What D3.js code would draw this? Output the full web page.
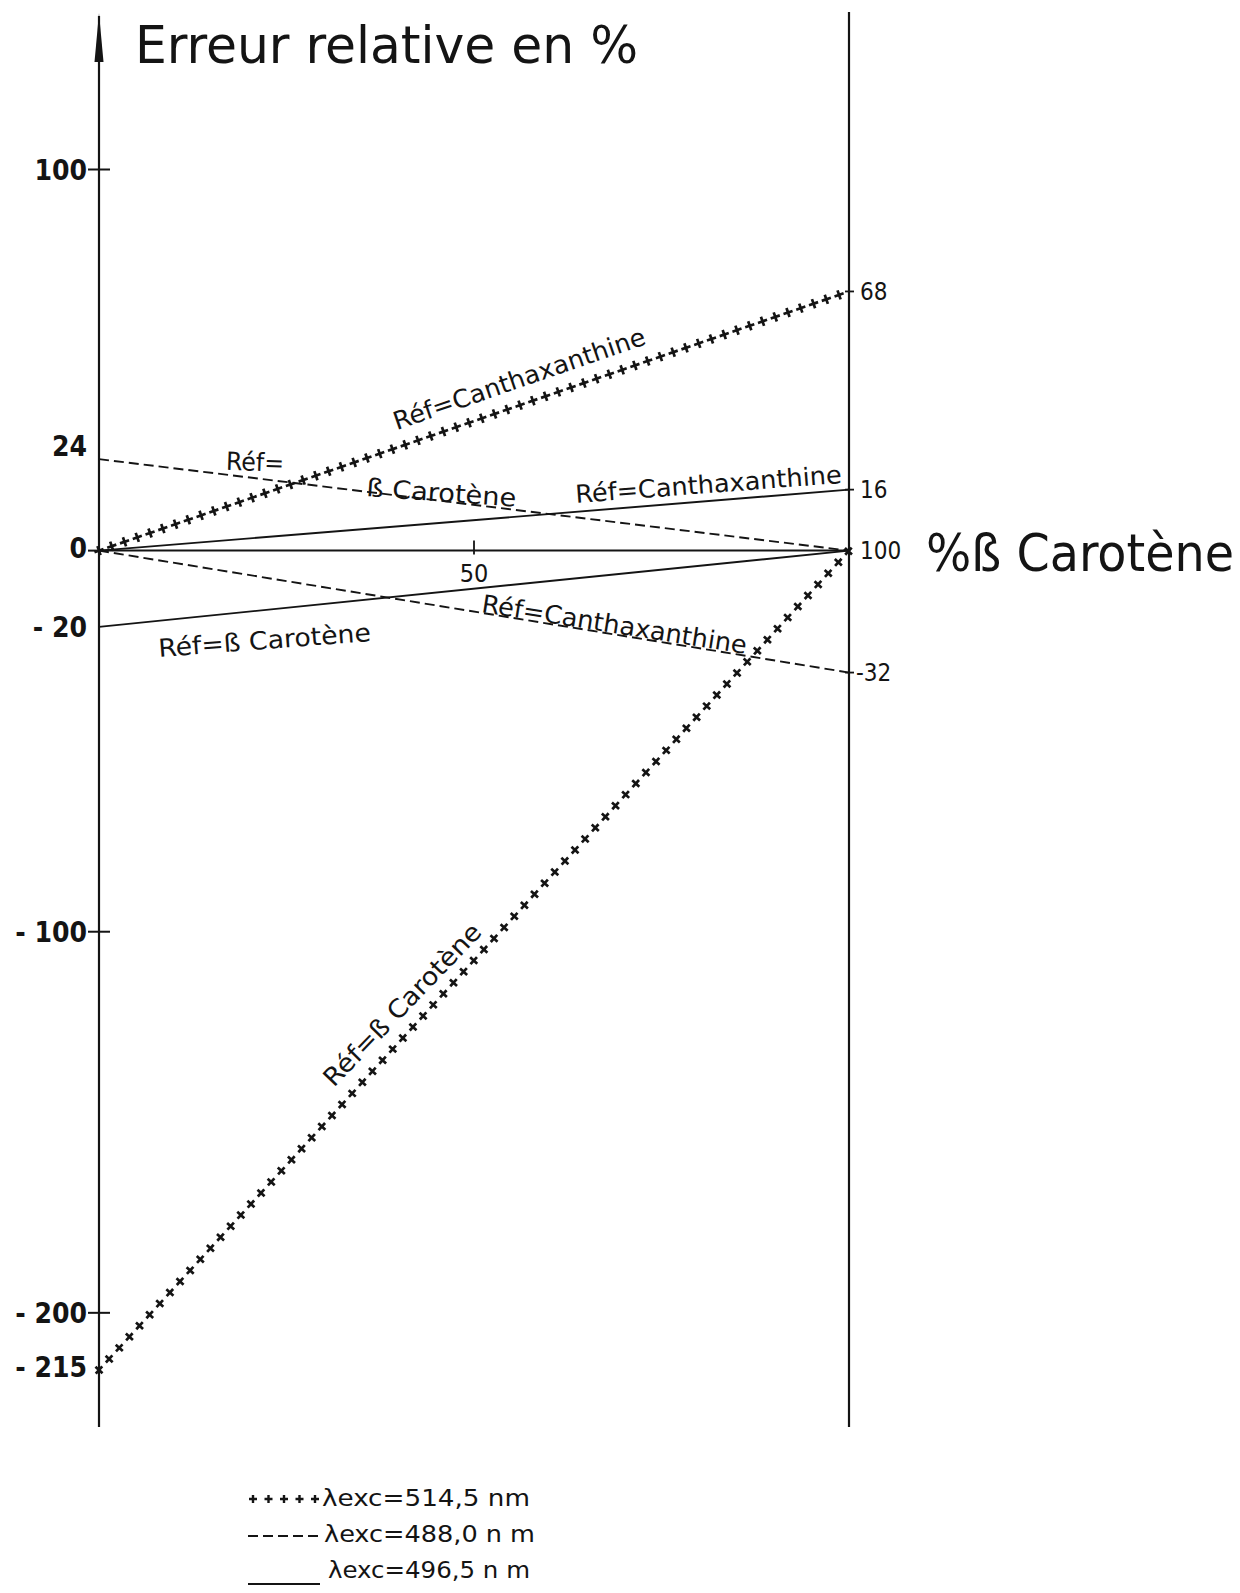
<!DOCTYPE html>
<html>
<head>
<meta charset="utf-8">
<script src="https://cdn.jsdelivr.net/npm/d3@7"></script>
<style>
  body { margin: 0; background: #fff; }
  text { font-family: "DejaVu Sans Condensed", "DejaVu Sans", sans-serif; fill: #141414; }
</style>
</head>
<body>
<svg id="chart" width="1240" height="1593"></svg>
<script>
// % beta carotene at both ends of each line
const pctCarotene = [0, 100];

// relative error (%) at 0 % and 100 % beta carotene
const plusCanth  = [0, 68];     // 514,5 nm, ref = canthaxanthine
const plusCarot  = [-215, 0];   // 514,5 nm, ref = beta carotene
const dashCarot  = [24, 0];     // 488,0 nm, ref = beta carotene
const dashCanth  = [0, -32];    // 488,0 nm, ref = canthaxanthine
const solidCanth = [0, 16];     // 496,5 nm, ref = canthaxanthine
const solidCarot = [-20, 0];    // 496,5 nm, ref = beta carotene

const leftTicks  = [100, 24, 0, -20, -100, -200, -215];
const leftLabels = ["100", "24", "0", "- 20", "- 100", "- 200", "- 215"];
const rightTicks  = [68, 16, 0, -32];
const rightLabels = ["68", "16", "100", "-32"];

const legendLabels = ["λexc=514,5 nm", "λexc=488,0 n m", "λexc=496,5 n m"];
const legendStyles = ["plus", "dash", "solid"];

const svg = d3.select("#chart");
const ink = "#141414";

const x = d3.scaleLinear().domain([0, 100]).range([99, 849]);
const y = d3.scaleLinear().domain([100, -215]).range([169.5, 1370]);

const series = [
  { values: plusCanth,  style: "plus" },
  { values: plusCarot,  style: "plus" },
  { values: dashCarot,  style: "dash" },
  { values: dashCanth,  style: "dash" },
  { values: solidCanth, style: "solid" },
  { values: solidCarot, style: "solid" }
];

// axes
svg.append("line").attr("x1", x(0)).attr("x2", x(0)).attr("y1", 16).attr("y2", 1427)
  .attr("stroke", ink).attr("stroke-width", 2.2);
svg.append("path").attr("d", `M${x(0)},13 L${x(0) - 4.5},62 L${x(0) + 4.5},62 Z`).attr("fill", ink);
svg.append("line").attr("x1", x(100)).attr("x2", x(100)).attr("y1", 12).attr("y2", 1427)
  .attr("stroke", ink).attr("stroke-width", 2.2);
svg.append("line").attr("x1", x(0)).attr("x2", x(100)).attr("y1", y(0)).attr("y2", y(0))
  .attr("stroke", ink).attr("stroke-width", 2);

// tick at 50
svg.append("line").attr("x1", x(50)).attr("x2", x(50)).attr("y1", y(0) - 10).attr("y2", y(0) + 4)
  .attr("stroke", ink).attr("stroke-width", 1.8);
svg.append("text").attr("x", x(50)).attr("y", y(0) + 31).attr("text-anchor", "middle")
  .attr("font-size", 25).text("50");

// left ticks + labels
const crossTicks = [100, -100, -200];
crossTicks.forEach(v => {
  svg.append("line").attr("x1", x(0) - 11).attr("x2", x(0) + 11).attr("y1", y(v)).attr("y2", y(v))
    .attr("stroke", ink).attr("stroke-width", 2);
});
svg.append("line").attr("x1", x(0) - 11).attr("x2", x(0)).attr("y1", y(0)).attr("y2", y(0))
  .attr("stroke", ink).attr("stroke-width", 2);

const leftShift = { "24": -13, "0": -3, "- 215": -3 };
leftTicks.forEach((v, i) => {
  svg.append("text")
    .attr("x", 87).attr("y", y(v) + (leftShift[leftLabels[i]] || 0))
    .attr("dy", "0.36em").attr("text-anchor", "end")
    .attr("font-size", 28).attr("font-weight", "bold")
    .text(leftLabels[i]);
});

// right ticks + labels
rightTicks.forEach((v, i) => {
  if (v !== 0) {
    svg.append("line").attr("x1", x(100) - 4).attr("x2", x(100) + 5).attr("y1", y(v)).attr("y2", y(v))
      .attr("stroke", ink).attr("stroke-width", 1.8);
  }
  svg.append("text")
    .attr("x", v === -32 ? x(100) + 7 : x(100) + 11).attr("y", y(v))
    .attr("dy", "0.36em").attr("font-size", 24)
    .text(rightLabels[i]);
});

// titles
svg.append("text").attr("x", 135).attr("y", 63).attr("font-size", 51)
  .attr("textLength", 503).attr("lengthAdjust", "spacingAndGlyphs")
  .text("Erreur relative en %");
svg.append("text").attr("x", 926).attr("y", 571).attr("font-size", 51)
  .attr("textLength", 308).attr("lengthAdjust", "spacingAndGlyphs")
  .text("%ß Carotène");

// series
const line = d3.line().x((d, i) => x(pctCarotene[i])).y(d => y(d));
const plusShape = "M-4.8,0L4.8,0M0,-4.8L0,4.8";

function dropPluses(pathSel, step, angle) {
  const node = pathSel.node();
  const len = node.getTotalLength();
  const g = svg.append("g");
  for (let s = 0; s <= len + 0.5; s += step) {
    const p = node.getPointAtLength(Math.min(s, len));
    g.append("path").attr("d", plusShape)
      .attr("transform", `translate(${p.x},${p.y}) rotate(${angle})`)
      .attr("stroke", ink).attr("stroke-width", 2.7).attr("fill", "none");
  }
}

series.forEach(s => {
  const p = svg.append("path").datum(s.values).attr("d", line).attr("fill", "none");
  if (s.style === "plus") {
    p.attr("stroke", "none");
    const ang = Math.atan2(y(s.values[1]) - y(s.values[0]), x(pctCarotene[1]) - x(pctCarotene[0])) * 180 / Math.PI;
    dropPluses(p, s.values[0] === -215 ? 15 : 13.5, ang);
  } else {
    p.attr("stroke", ink).attr("stroke-width", 1.9);
    if (s.style === "dash") p.attr("stroke-dasharray", "10,5");
  }
});

// line annotations (x, y in data units, baseline start)
const notes = [
  { text: "Réf=Canthaxanthine", px: 39.7, py: 31.6, angle: -19, len: 265 },
  { text: "Réf=",               px: 16.9, py: 21.2, angle: 2,   len: 58 },
  { text: "ß Carotène",         px: 35.6, py: 14.3, angle: 4,   len: 150 },
  { text: "Réf=Canthaxanthine", px: 63.6, py: 12.5, angle: -4.3, len: 267 },
  { text: "Réf=ß Carotène",     px: 8.0,  py: -27.9, angle: -4.3, len: 213 },
  { text: "Réf=Canthaxanthine", px: 50.9, py: -16.1, angle: 9,  len: 268 },
  { text: "Réf=ß Carotène",     px: 31.3, py: -141.0, angle: -46, len: 215 }
];
notes.forEach(n => {
  svg.append("text")
    .attr("transform", `translate(${x(n.px)},${y(n.py)}) rotate(${n.angle})`)
    .attr("font-size", 25)
    .attr("textLength", n.len).attr("lengthAdjust", "spacingAndGlyphs")
    .text(n.text);
});

// legend
const rowY = [1506, 1542, 1578];
const textX = [322, 324, 328];
const textLen = [208, 211, 202];
legendStyles.forEach((st, i) => {
  const yy = rowY[i];
  if (st === "plus") {
    d3.range(5).forEach(k => {
      svg.append("path").attr("d", "M-4,0L4,0M0,-4L0,4")
        .attr("transform", `translate(${253 + k * 15.5},${yy - 7})`)
        .attr("stroke", ink).attr("stroke-width", 2.4);
    });
  } else if (st === "dash") {
    svg.append("line").attr("x1", 248).attr("x2", 320).attr("y1", yy - 6).attr("y2", yy - 6)
      .attr("stroke", ink).attr("stroke-width", 2).attr("stroke-dasharray", "10,5");
  } else {
    svg.append("line").attr("x1", 248).attr("x2", 320).attr("y1", yy + 6).attr("y2", yy + 6)
      .attr("stroke", ink).attr("stroke-width", 2);
  }
  svg.append("text").attr("x", textX[i]).attr("y", yy).attr("font-size", 23)
    .attr("textLength", textLen[i]).attr("lengthAdjust", "spacingAndGlyphs")
    .text(legendLabels[i]);
});
</script>
</body>
</html>
